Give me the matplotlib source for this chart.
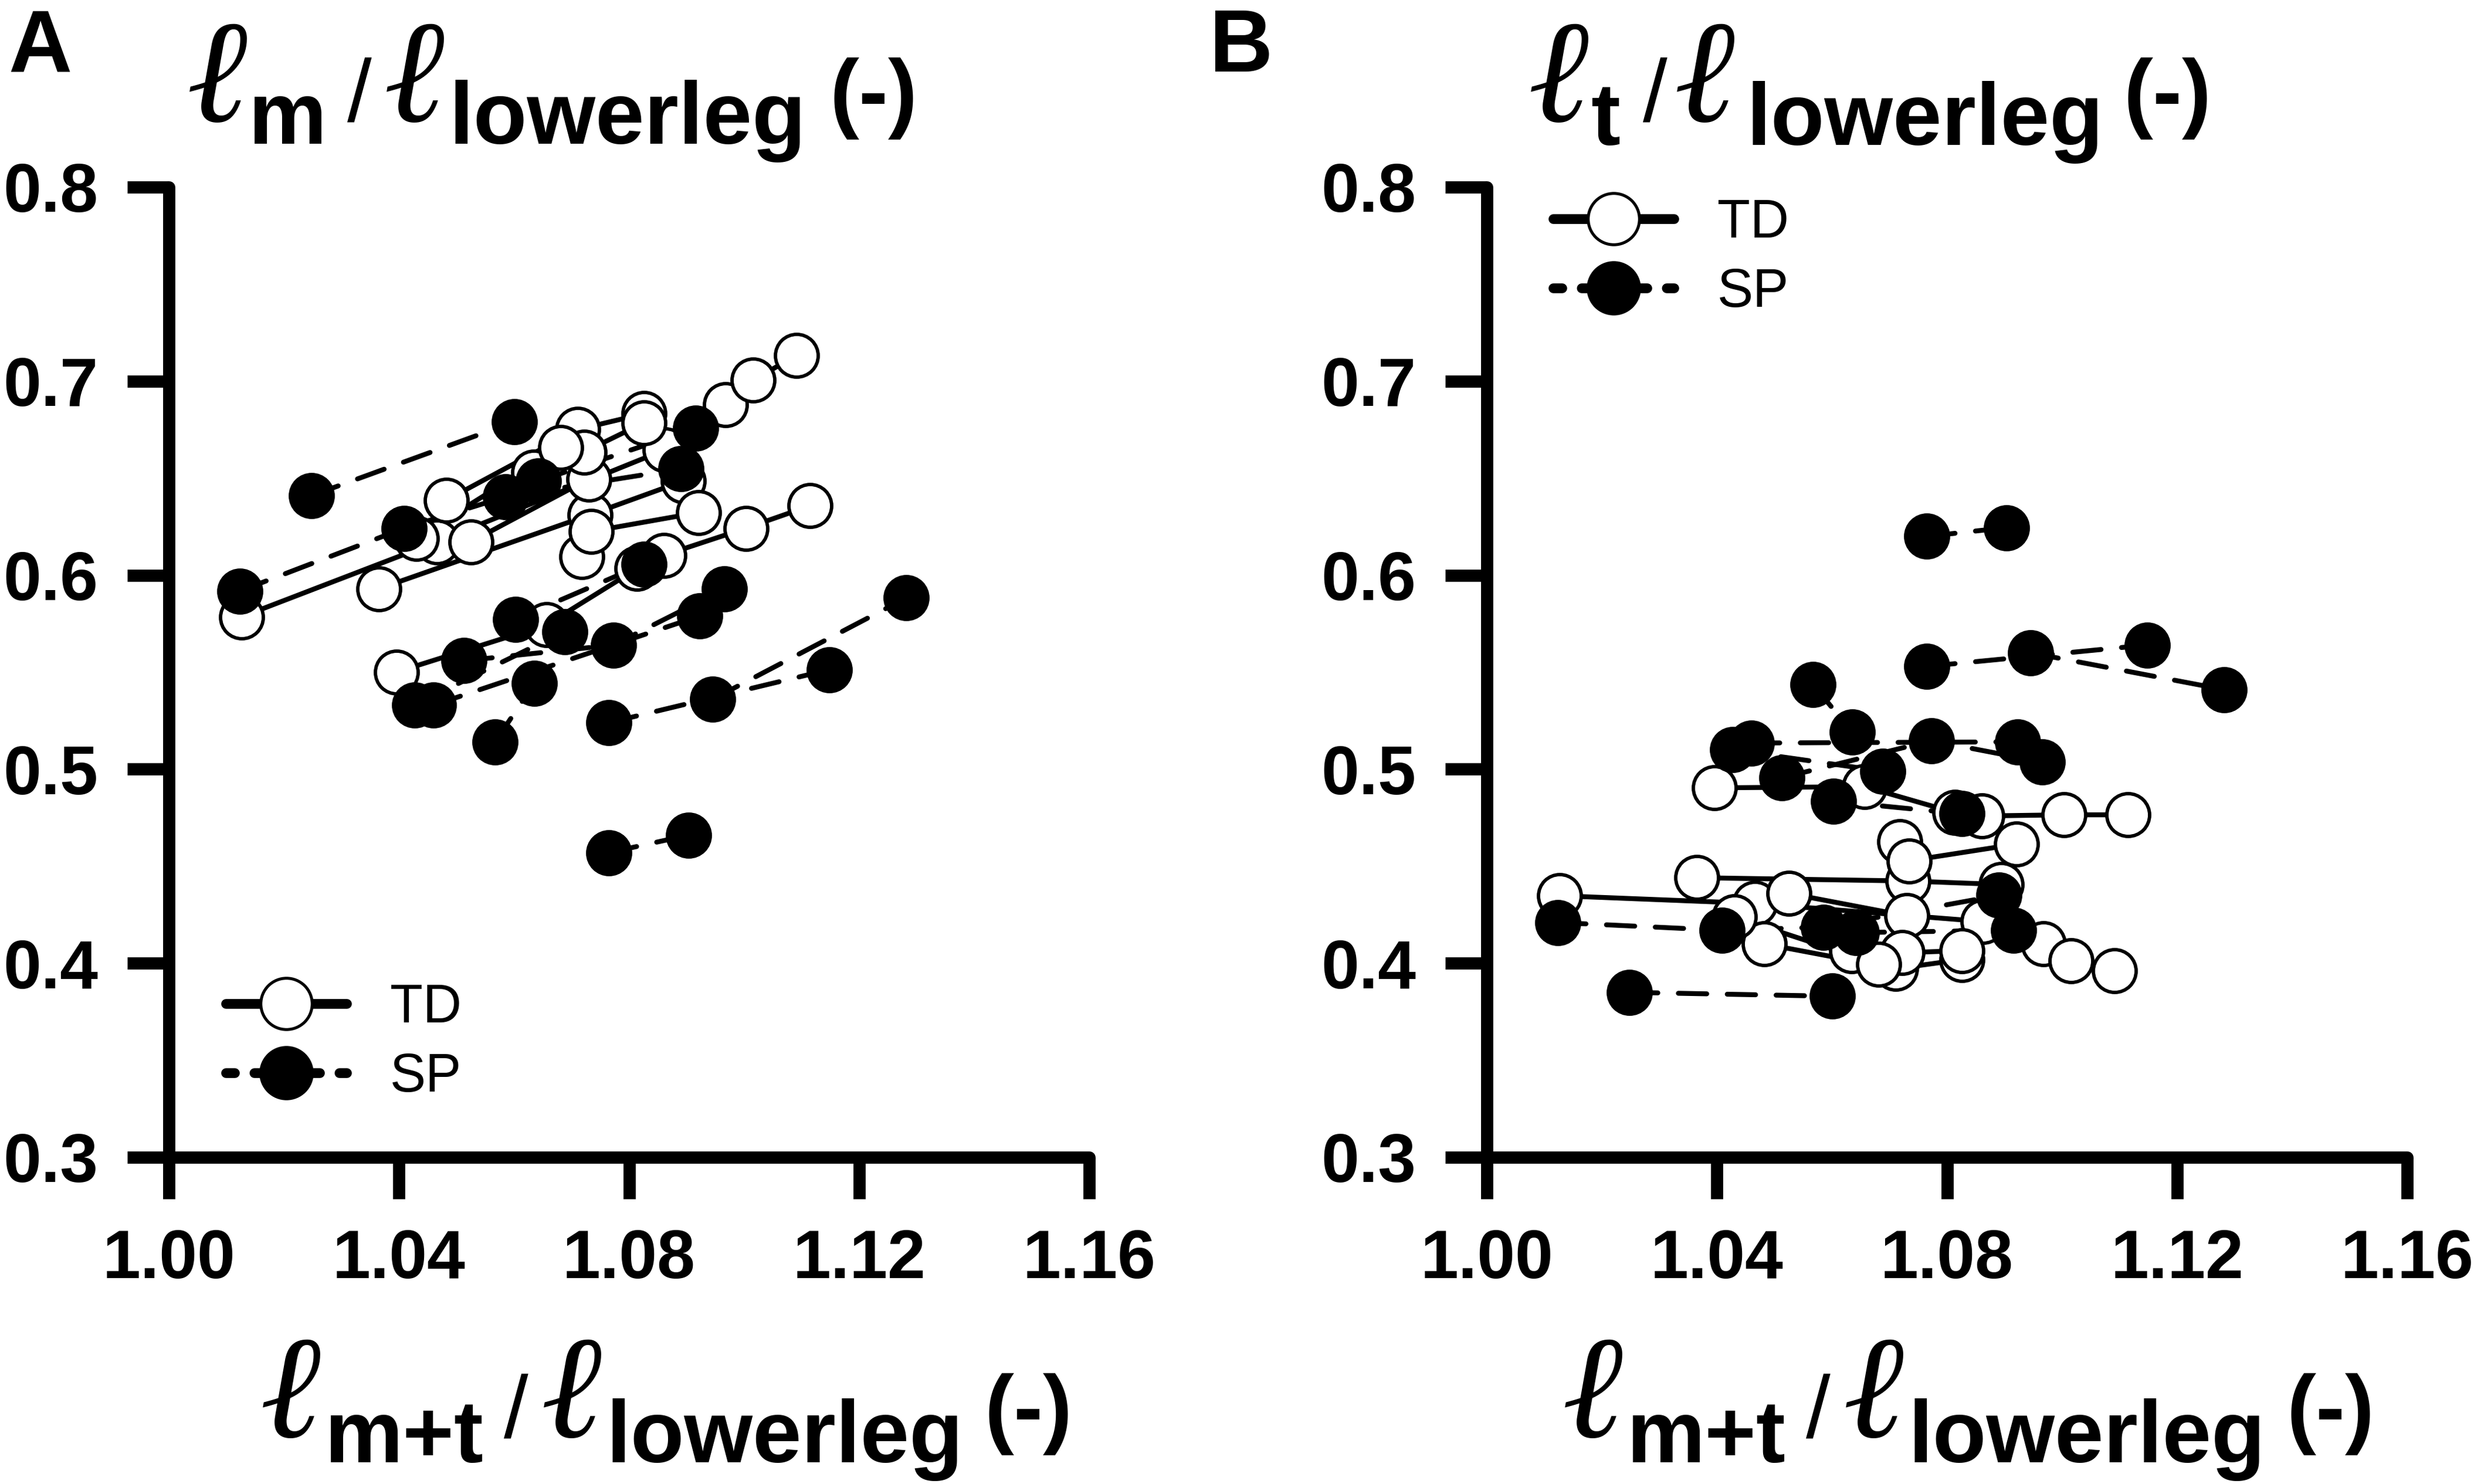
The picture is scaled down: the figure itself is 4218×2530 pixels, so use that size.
import matplotlib
matplotlib.use('Agg')
import matplotlib.pyplot as plt
from matplotlib.lines import Line2D
import numpy as np

plt.rcParams['font.family'] = ['Liberation Sans', 'DejaVu Sans']

# ---------------- data ----------------
x_ticks = [1.00, 1.04, 1.08, 1.12, 1.16]
x_ticklabels = ['1.00', '1.04', '1.08', '1.12', '1.16']
y_ticks = [0.3, 0.4, 0.5, 0.6, 0.7, 0.8]
y_ticklabels = ['0.3', '0.4', '0.5', '0.6', '0.7', '0.8']

# typically developing (TD) children: subject id, l_m+t/l_lowerleg, l_m/l_lowerleg, l_t/l_lowerleg
td_subject = [1, 1, 1, 2, 2, 2, 3, 3, 3, 4, 4, 4, 5, 5, 5,
              6, 6, 6, 7, 7, 8, 8, 8, 9, 9, 9, 10, 10]
td_x = [1.0126, 1.0466, 1.0863, 1.0365, 1.0732, 1.0894, 1.0396, 1.0657, 1.0814,
        1.0861, 1.1003, 1.1115, 1.0968, 1.1016, 1.1091, 1.0482, 1.0711, 1.0826,
        1.0525, 1.0730, 1.0718, 1.0734, 1.0921, 1.0634, 1.0722, 1.0826, 1.0430, 1.0681]
td_lm = [0.5785, 0.6172, 0.6647, 0.5930, 0.6311, 0.6485, 0.5501, 0.5745, 0.6034,
         0.6103, 0.6242, 0.6358, 0.6878, 0.7005, 0.7133, 0.6386, 0.6751, 0.6832,
         0.6172, 0.6496, 0.6097, 0.6225, 0.6323, 0.6531, 0.6635, 0.6786, 0.6190, 0.6658]
td_lt = [0.4348, 0.4308, 0.4215, 0.4441, 0.4424, 0.4406, 0.4904, 0.4910, 0.4776,
         0.4759, 0.4765, 0.4765, 0.4100, 0.4013, 0.3961, 0.4100, 0.3972, 0.4019,
         0.4360, 0.4244, 0.4626, 0.4528, 0.4614, 0.4065, 0.4054, 0.4065, 0.4239, 0.3995]

# children with spastic paresis (SP)
sp_subject = [1, 1, 1, 1, 2, 2, 3, 3, 4, 4, 5, 5, 6, 6, 7, 7,
              7, 8, 8, 9, 9, 10, 10, 11, 11]
sp_x = [1.0123, 1.0409, 1.0585, 1.0890, 1.0248, 1.0601, 1.0765, 1.0903,
        1.0765, 1.1148, 1.0945, 1.1282, 1.0567, 1.0635, 1.0513, 1.0773,
        1.0966, 1.0460, 1.0923, 1.0427, 1.0688, 1.0603, 1.0826, 1.0642, 1.0916]
sp_lm = [0.5918, 0.6242, 0.6404, 0.6548, 0.6410, 0.6791, 0.4570, 0.4660,
         0.5240, 0.5513, 0.5360, 0.5883, 0.5140, 0.5442, 0.5559, 0.5640,
         0.5929, 0.5330, 0.5790, 0.5331, 0.5710, 0.5773, 0.6057, 0.6485, 0.6757]
sp_lt = [0.4210, 0.4170, 0.4186, 0.4350, 0.3850, 0.3830, 0.6200, 0.6245,
         0.5530, 0.5640, 0.5600, 0.5410, 0.5436, 0.5193, 0.4956, 0.5147,
         0.5037, 0.5135, 0.5141, 0.5100, 0.4990, 0.4835, 0.4770, 0.4158, 0.4170]

# ---------------- figure ----------------
W, H = 4218, 2530
fig = plt.figure(figsize=(W / 300, H / 300), dpi=300)


def fx(px):
    return px / W


def fy(py):
    return 1 - py / H


axA = fig.add_axes([fx(288), fy(1973), fx(1857) - fx(288), fy(319) - fy(1973)])
axB = fig.add_axes([fx(2535), fy(1973), fx(4104) - fx(2535), fy(319) - fy(1973)])

SP_DASH = (0, (5.8, 4.2))


def draw(ax, yt, ys):
    td_x_a = np.array(td_x)
    td_y_a = np.array(yt)
    sp_x_a = np.array(sp_x)
    sp_y_a = np.array(ys)
    td_s = np.array(td_subject)
    sp_s = np.array(sp_subject)
    for g in np.unique(td_s):
        m = td_s == g
        order = np.argsort(td_x_a[m])
        ax.plot(td_x_a[m][order], td_y_a[m][order], color='black', lw=2.0,
                solid_capstyle='round', zorder=2)
    for g in np.unique(sp_s):
        m = sp_s == g
        order = np.argsort(sp_x_a[m])
        ax.plot(sp_x_a[m][order], sp_y_a[m][order], color='black', lw=2.0,
                ls=SP_DASH, dash_capstyle='round', zorder=2)
    ax.plot(td_x_a, td_y_a, ls='none', marker='o', ms=17.5, mfc='white',
            mec='black', mew=1.4, zorder=3)
    ax.plot(sp_x_a, sp_y_a, ls='none', marker='o', ms=17.5, mfc='black',
            mec='black', mew=1.4, zorder=4)

    ax.set_xlim(1.00, 1.16)
    ax.set_ylim(0.3, 0.8)
    ax.set_xticks(x_ticks)
    ax.set_xticklabels(x_ticklabels)
    ax.set_yticks(y_ticks)
    ax.set_yticklabels(y_ticklabels)
    for s in ['top', 'right']:
        ax.spines[s].set_visible(False)
    for s in ['left', 'bottom']:
        ax.spines[s].set_linewidth(5)
        ax.spines[s].set_capstyle('round')
    ax.tick_params(axis='both', direction='out', length=17, width=5, pad=12,
                   labelsize=28)
    for lab in ax.get_xticklabels() + ax.get_yticklabels():
        lab.set_fontweight('bold')
    ax.patch.set_alpha(0)


draw(axA, td_lm, sp_lm)
draw(axB, td_lt, sp_lt)

# legends
h_td = Line2D([], [], color='black', lw=4, marker='o', ms=21, mfc='white',
              mec='black', mew=1.2, solid_capstyle='round')
h_sp = Line2D([], [], color='black', lw=4, ls=(0, (0.9, 2.0)), marker='o', ms=21,
              mfc='black', mec='black', mew=1.2, dash_capstyle='round')
for ax, bx, by in [(axA, 0.0618, 0.1179), (axB, 0.072, 0.9268)]:
    ax.legend([h_td, h_sp], ['TD', 'SP'], loc='center left', bbox_to_anchor=(bx, by),
              frameon=False, fontsize=22, handlelength=2.25, handletextpad=0.8,
              labelspacing=0.35, borderpad=0, borderaxespad=0, numpoints=1)

# titles / axis labels (built from pieces)
ELL = dict(family=['Liberation Serif', 'Noto Sans', 'DejaVu Sans'], style='italic',
           fontsize=60)
SUB = dict(fontweight='bold', fontsize=36)
SL = dict(fontweight='normal', fontsize=36)
PAR = dict(fontweight='bold', fontsize=36)


def piece(px, py, s, props):
    fig.text(fx(px), fy(py), s, ha='left', va='baseline', **props)


def label(x0, base, sub_base, first_sub, offs):
    piece(x0 + offs[0], base, '\u2113', ELL)
    piece(x0 + offs[1], sub_base, first_sub, SUB)
    piece(x0 + offs[2], base, '/', SL)
    piece(x0 + offs[3], base, '\u2113', ELL)
    piece(x0 + offs[4], sub_base, 'lowerleg', SUB)
    piece(x0 + offs[5], base, '(-)', PAR)


# panel letters
piece(14, 122, 'A', dict(fontweight='bold', fontsize=36))
piece(2062, 122, 'B', dict(fontweight='bold', fontsize=36))

# titles
label(0, 207, 245, 'm', [318, 424, 592, 654, 766, 1414])
label(0, 207, 247, 't', [2605, 2712, 2801, 2854, 2977, 3620])

# x labels
label(0, 2450, 2493, 'm+t', [443, 554, 859, 922, 1034, 1678])
label(2220, 2450, 2493, 'm+t', [443, 554, 859, 922, 1034, 1678])

fig.savefig('out.png', dpi=300)
